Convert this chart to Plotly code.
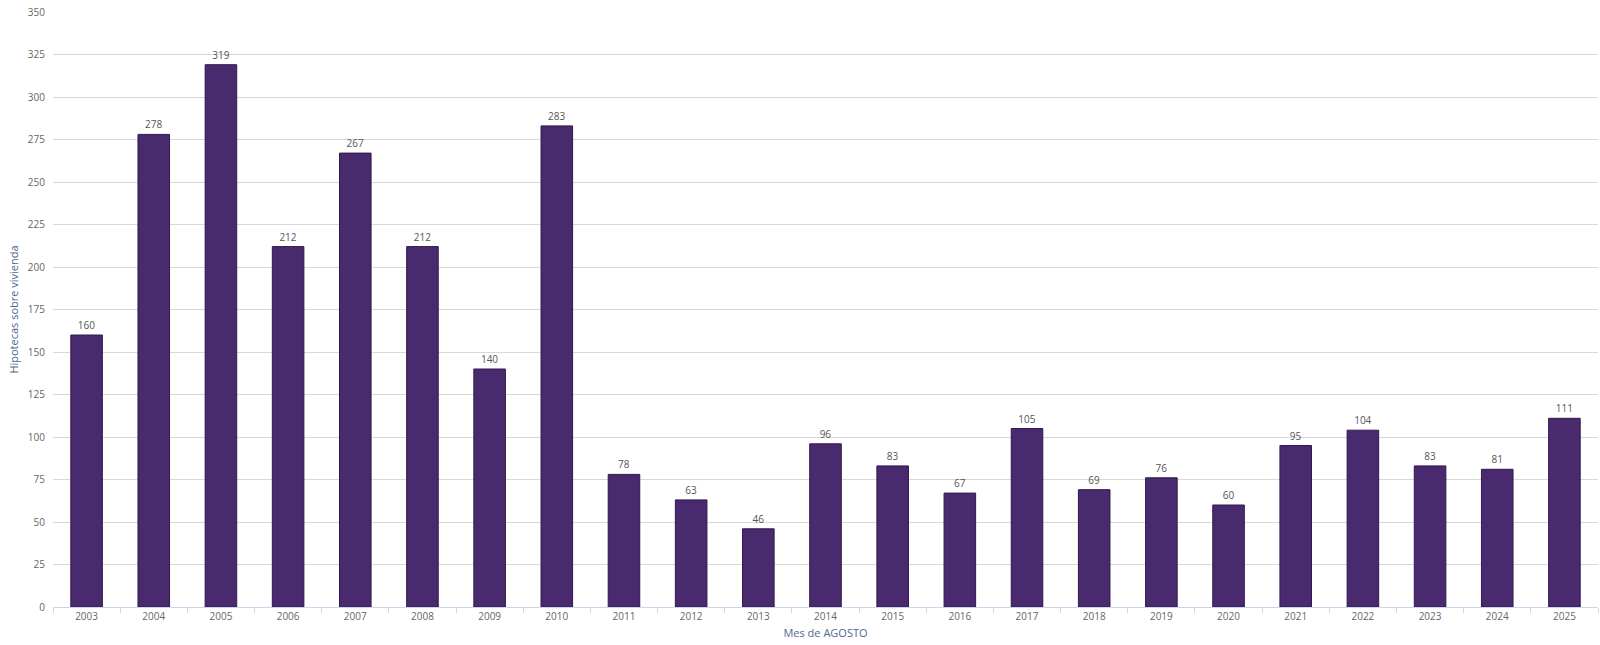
import plotly.graph_objects as go

years = [str(y) for y in range(2003, 2026)]
values = [160, 278, 319, 212, 267, 212, 140, 283, 78, 63, 46, 96, 83, 67, 105, 69, 76, 60, 95, 104, 83, 81, 111]
y_ticks = list(range(0, 351, 25))

fig = go.Figure(go.Bar(
    x=years, y=values,
    marker=dict(color="#4a2a6e", line=dict(color="#2f1a4c", width=1)),
    width=0.47,
    text=[str(v) for v in values], textposition="outside", cliponaxis=False,
    textfont=dict(family="Open Sans, sans-serif", size=10, color="#555555"),
))

fig.update_layout(
    width=1600, height=645,
    margin=dict(l=53, r=2, t=12, b=38, autoexpand=False),
    paper_bgcolor="white", plot_bgcolor="white",
    showlegend=False,
    font=dict(family="Open Sans, sans-serif", size=10, color="#666666"),
    xaxis=dict(
        type="category", showgrid=False,
        ticks="outside", tickson="boundaries", ticklen=5, tickcolor="#ccd6eb",
        showline=True, linecolor="#ccd6eb", linewidth=1,
        tickfont=dict(size=10, color="#666666"),
        title=dict(text="Mes de AGOSTO", font=dict(size=11, color="#4d6a8c"), standoff=7),
    ),
    yaxis=dict(
        range=[0, 350], tickvals=y_ticks, showgrid=True, gridcolor="#d8d8d8", gridwidth=1,
        zeroline=False, showline=False, ticks="", ticklabelstandoff=7,
        ticklabeloverflow="allow",
        tickfont=dict(size=10, color="#666666"),
        title=dict(text="Hipotecas sobre vivienda", font=dict(size=11, color="#4d6a8c"), standoff=6),
    ),
)

fig.write_html(
    "out.html",
    config={"displayModeBar": False},
    post_script="document.body.style.margin='0';document.body.style.overflow='hidden';",
)
